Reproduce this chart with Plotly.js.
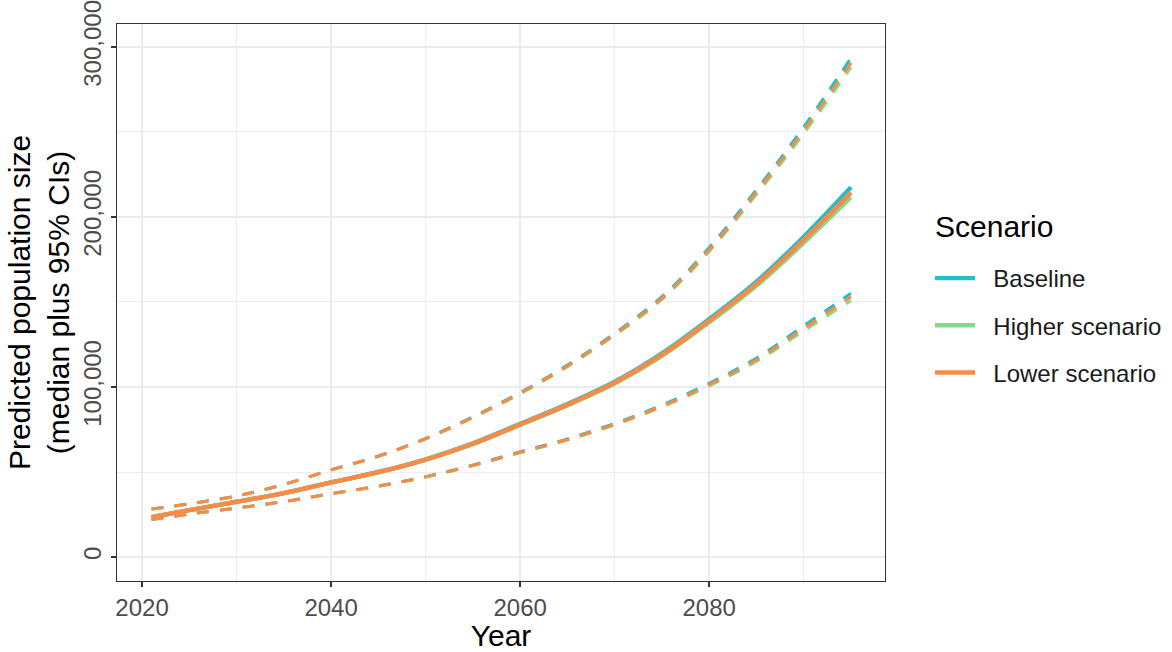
<!DOCTYPE html>
<html>
<head>
<meta charset="utf-8">
<script src="https://cdn.plot.ly/plotly-3.0.1.min.js"></script>
<style>
  html, body { margin: 0; padding: 0; background: #ffffff; }
  #chart { width: 1172px; height: 652px; }
</style>
</head>
<body>
<div id="chart"></div>
<script>
// Projection years
const years = [2021, 2025, 2030, 2035, 2040, 2045, 2050, 2055, 2060, 2065, 2070, 2075, 2080, 2085, 2090, 2095];

// Baseline: median, upper and lower 95% CI
const baselineMedian = [23500, 27600, 32500, 37600, 43900, 50000, 57500, 66900, 78300, 90000, 103100, 119800, 140000, 162000, 188400, 217500];
const baselineUpper  = [28200, 31300, 35900, 42700, 51300, 59400, 69800, 82500, 96800, 112900, 131600, 153100, 182000, 216000, 253000, 293500];
const baselineLower  = [22000, 25300, 28800, 32600, 37300, 41800, 47300, 54100, 61900, 69500, 78600, 89400, 102200, 117000, 136000, 155100];

// Higher scenario
const higherMedian = [23500, 27600, 32500, 37600, 43800, 49800, 57200, 66400, 77700, 89200, 102000, 118300, 138000, 159500, 184800, 211600];
const higherUpper  = [28200, 31300, 35900, 42700, 51200, 59200, 69400, 81900, 96000, 112000, 130400, 151500, 179700, 213300, 249000, 288000];
const higherLower  = [22000, 25300, 28800, 32600, 37200, 41600, 47000, 53700, 61300, 68800, 77700, 88200, 100600, 115000, 133000, 150800];

// Lower scenario
const lowerMedian = [23500, 27600, 32500, 37600, 43850, 49900, 57350, 66600, 78000, 89600, 102600, 119000, 139000, 160800, 186500, 214300];
const lowerUpper  = [28200, 31300, 35900, 42700, 51250, 59300, 69600, 82200, 96400, 112400, 131000, 152300, 180800, 214600, 251000, 290600];
const lowerLower  = [22000, 25300, 28800, 32600, 37250, 41700, 47150, 53900, 61600, 69100, 78100, 88800, 101400, 116000, 134500, 153100];

const scenarioNames = ['Baseline', 'Higher scenario', 'Lower scenario'];
const scenarioColors = ['#1fbfd0', '#84d98b', '#fa8a46'];
const legendTitle = 'Scenario';
const scenarioSeries = [
  [baselineMedian, baselineUpper, baselineLower],
  [higherMedian, higherUpper, higherLower],
  [lowerMedian, lowerUpper, lowerLower]
];

const pad = '\u00a0\u00a0';
const traces = [];
scenarioSeries.forEach((series, i) => {
  const [med, up, lo] = series;
  const col = scenarioColors[i];
  const grp = 'g' + i;
  const dashed = { color: col, width: 3, dash: '12px,11px', shape: 'spline', smoothing: 1 };
  traces.push({
    x: years, y: up, type: 'scatter', mode: 'lines',
    line: dashed, legendgroup: grp, showlegend: false, hoverinfo: 'skip'
  });
  traces.push({
    x: years, y: lo, type: 'scatter', mode: 'lines',
    line: dashed, legendgroup: grp, showlegend: false, hoverinfo: 'skip'
  });
  traces.push({
    x: years, y: med, type: 'scatter', mode: 'lines', name: pad + scenarioNames[i],
    line: { color: col, width: 4.4, shape: 'spline', smoothing: 1 },
    legendgroup: grp, showlegend: true
  });
});

const gridCol = '#ebebeb';
const axisCol = '#333333';
const tickFont = { family: 'Liberation Sans, Arial, sans-serif', size: 24, color: '#4d4d4d' };

const layout = {
  width: 1172,
  height: 652,
  paper_bgcolor: '#ffffff',
  plot_bgcolor: '#ffffff',
  margin: { l: 117, r: 287, t: 24, b: 71, autoexpand: false },
  font: { family: 'Liberation Sans, Arial, sans-serif', color: '#000000' },
  xaxis: {
    range: [2017.35, 2098.6],
    tick0: 2020, dtick: 20,
    showgrid: true, gridcolor: gridCol, gridwidth: 1.6,
    minor: { dtick: 10, showgrid: true, gridcolor: gridCol, gridwidth: 0.9, ticks: '' },
    zeroline: false,
    showline: true, mirror: true, linecolor: axisCol, linewidth: 1.2,
    ticks: 'outside', ticklen: 5, tickwidth: 1.5, tickcolor: axisCol,
    tickfont: tickFont,
    title: { text: 'Year', font: { size: 30, color: '#000000' }, standoff: 4 }
  },
  yaxis: {
    range: [-14100, 313500],
    tick0: 0, dtick: 100000,
    tickformat: ',d',
    tickangle: -90,
    ticklabeloverflow: 'allow',
    showgrid: true, gridcolor: gridCol, gridwidth: 1.6,
    minor: { dtick: 50000, showgrid: true, gridcolor: gridCol, gridwidth: 0.9, ticks: '' },
    zeroline: false,
    showline: true, mirror: true, linecolor: axisCol, linewidth: 1.2,
    ticks: 'outside', ticklen: 5, tickwidth: 1.5, tickcolor: axisCol,
    tickfont: tickFont,
    title: { text: 'Predicted population size<br>(median plus 95% CIs)', font: { size: 30, color: '#000000' }, standoff: 0 }
  },
  showlegend: true,
  legend: {
    x: 1.0586, xanchor: 'left',
    y: 0.5835, yanchor: 'top',
    traceorder: 'grouped',
    tracegroupgap: 13,
    itemwidth: 40,
    font: { size: 24, color: '#1a1a1a' },
    bgcolor: 'rgba(0,0,0,0)'
  },
  annotations: [{
    text: legendTitle,
    xref: 'paper', yref: 'paper',
    x: 1.0625, xanchor: 'left',
    y: 0.6373, yanchor: 'middle',
    showarrow: false,
    font: { size: 30, color: '#000000' }
  }]
};

Plotly.newPlot('chart', traces, layout, { displayModeBar: false, staticPlot: true });
</script>
</body>
</html>
